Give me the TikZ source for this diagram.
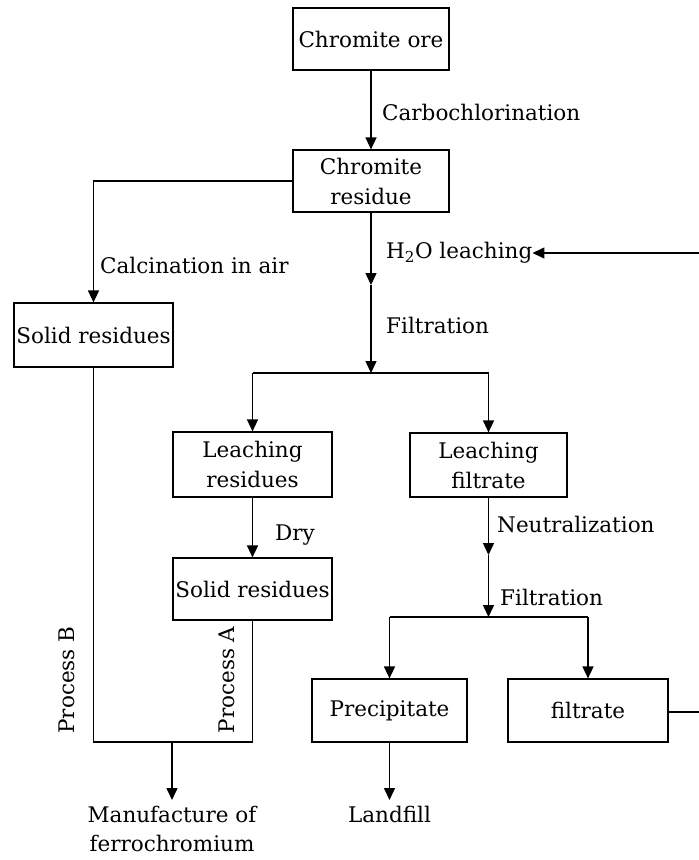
\documentclass[tikz,border=0pt]{standalone}
\usepackage{fontspec}
\setmainfont{DejaVu Serif}
\usetikzlibrary{arrows.meta}
\begin{document}
\begin{tikzpicture}[x=1pt,y=-1pt,
  box/.style={draw, line width=1.2pt, inner sep=1pt, align=center, font=\fontsize{21.5}{30}\selectfont},
  lbl/.style={inner sep=0pt, align=center, font=\fontsize{21.5}{30}\selectfont},
  conn/.style={line width=1.5pt},
  arr/.style={conn, -{Triangle[width=11pt,length=12pt]}}]
\useasboundingbox (0,0) rectangle (699,860);
% boxes
\node[box, minimum width=156pt, minimum height=62pt] (ore) at (371,39) {Chromite ore};
\node[box, minimum width=156pt, minimum height=62pt] (res) at (371,181) {Chromite\\residue};
\node[box, minimum width=159pt, minimum height=64pt] (solidL) at (93.5,335) {Solid residues};
\node[box, minimum width=159pt, minimum height=65pt] (leachR) at (252.5,464.5) {Leaching\\residues};
\node[box, minimum width=159pt, minimum height=62pt] (solidM) at (252.5,589) {Solid residues};
\node[box, minimum width=157pt, minimum height=64pt] (leachF) at (488.5,465) {Leaching\\filtrate};
\node[box, minimum width=155pt, minimum height=63pt] (prec) at (389.5,710.5) {Precipitate};
\node[box, minimum width=160pt, minimum height=63pt] (filt) at (588,710.5) {filtrate};
% labels
\node[lbl, anchor=west] (carbo) at (382,112) {Carbochlorination};
\node[lbl, anchor=west] (calc) at (100,265) {Calcination in air};
\node[lbl, anchor=west] (h2o) at (386,253) {H\textsubscript{2}O leaching};
\node[lbl, anchor=west] (filtr1) at (386,325) {Filtration};
\node[lbl, anchor=west] (dry) at (275,535) {Dry};
\node[lbl, anchor=west] (neut) at (497,524) {Neutralization};
\node[lbl, anchor=west] (filtr2) at (500,597) {Filtration};
\node[lbl, rotate=90] (procB) at (67,680) {Process B};
\node[lbl, rotate=90] (procA) at (227,680) {Process A};
\node[lbl] (landfill) at (389.5,814) {Landfill};
\node[lbl, font=\fontsize{21.5}{29}\selectfont] (manuf) at (172,829) {Manufacture of\\ferrochromium};
% coordinates
\coordinate (m1) at (371,285);
\coordinate (s1) at (371,373);
\coordinate (s1L) at (252.5,373);
\coordinate (s1R) at (488.5,373);
\coordinate (m2) at (488.5,555);
\coordinate (s2) at (488.5,617);
\coordinate (s2L) at (389.5,617);
\coordinate (s2R) at (588,617);
\coordinate (bL) at (93.5,742);
\coordinate (bR) at (252.5,742);
\coordinate (bM) at (172,742);
\coordinate (bMe) at (172,800);
\coordinate (lfe) at (389.5,800);
\coordinate (edgeTop) at (699,253);
\coordinate (edgeBot) at (699,712);
% connectors
\draw[arr] (ore) -- (res);
\draw[arr] (res.west) -| (solidL.north);
\draw[arr] (res) -- (m1);
\draw[arr] (m1) -- (s1);
\draw[conn] (s1L) -- (s1R);
\draw[arr] (s1L) -- (leachR.north);
\draw[arr] (s1R) -- (leachF.north);
\draw[arr] (leachR) -- (solidM);
\draw[arr] (leachF) -- (m2);
\draw[arr] (m2) -- (s2);
\draw[conn] (s2L) -- (s2R);
\draw[arr] (s2L) -- (prec.north);
\draw[arr] (s2R) -- (filt.north);
\draw[arr] (prec) -- (lfe);
\draw[conn] (solidL.south) -- (bL) -- (bR) -- (solidM.south);
\draw[arr] (bM) -- (bMe);
\draw[conn] (filt.east |- edgeBot) -- (edgeBot);
\draw[arr] (edgeTop) -- (h2o.east);
\end{tikzpicture}
\end{document}
